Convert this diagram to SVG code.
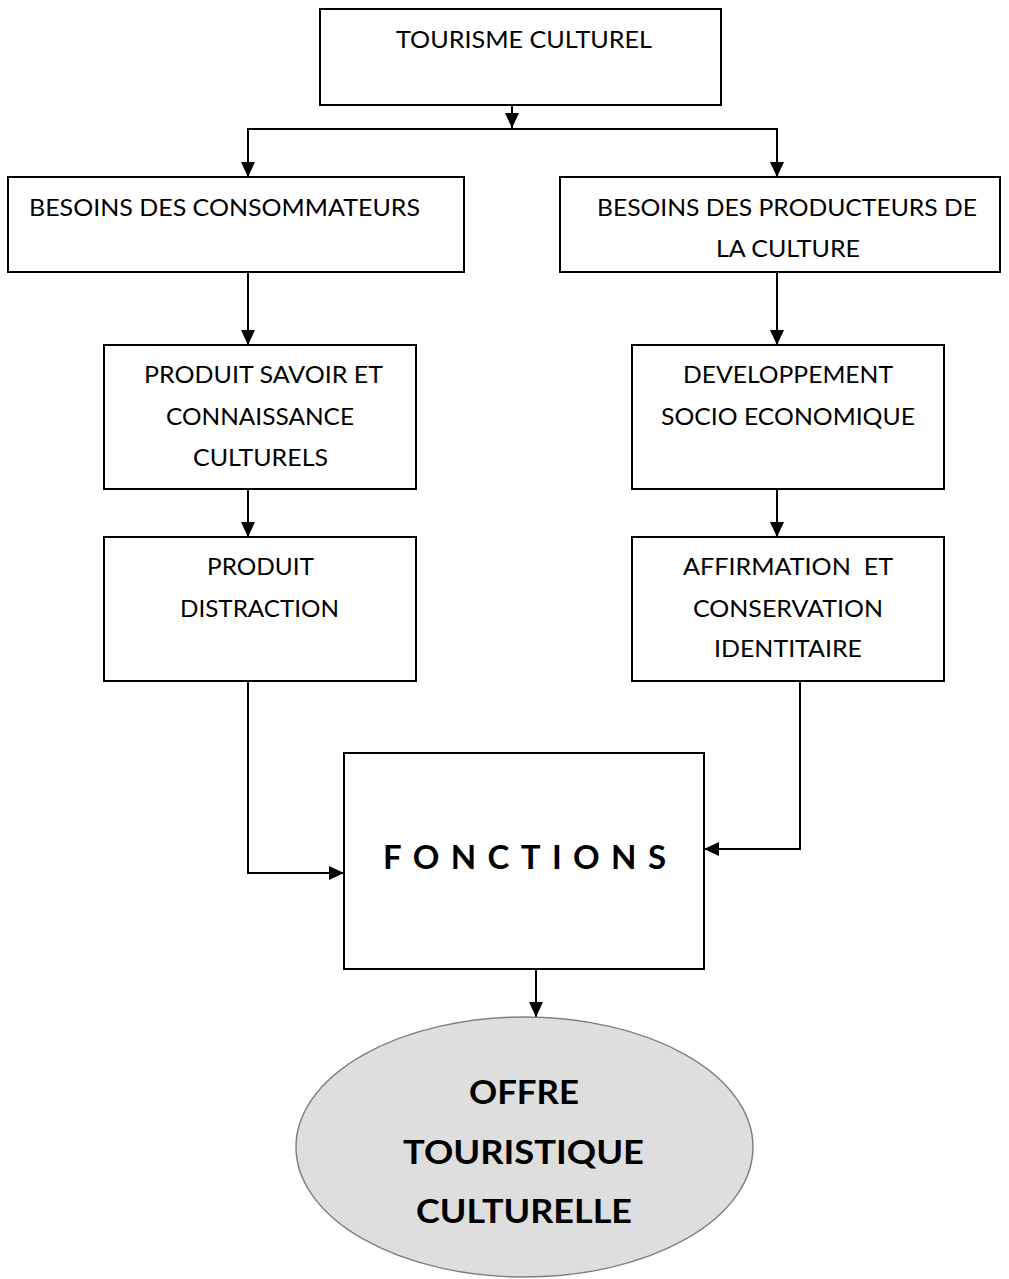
<svg xmlns="http://www.w3.org/2000/svg" width="1009" height="1279" viewBox="0 0 1009 1279">
  <style>
    .box { fill: #ffffff; stroke: #000000; stroke-width: 2; }
    .oval { fill: #dedede; stroke: #808080; stroke-width: 1.5; }
    .wire { fill: none; stroke: #000000; stroke-width: 2; }
    .lbl { font-family: Lato, "Open Sans", sans-serif; font-size: 24px; fill: #000000; }
    .big { font-family: Lato, "Open Sans", sans-serif; font-size: 33px; font-weight: bold; fill: #000000; }
  </style>
  <defs>
    <marker id="head" markerUnits="userSpaceOnUse" markerWidth="16" markerHeight="14" refX="15" refY="7" orient="auto">
      <path d="M0,0 L15,7 L0,14 z" fill="#000000"/>
    </marker>
  </defs>

  <rect width="1009" height="1279" fill="#ffffff"/>

  <!-- connectors -->
  <g id="connectors">
    <line class="wire" x1="512" y1="105" x2="512" y2="128" marker-end="url(#head)"/>
    <line class="wire" x1="247" y1="129" x2="778" y2="129"/>
    <line class="wire" x1="248" y1="129" x2="248" y2="177" marker-end="url(#head)"/>
    <line class="wire" x1="777" y1="129" x2="777" y2="177" marker-end="url(#head)"/>
    <line class="wire" x1="248" y1="272" x2="248" y2="345" marker-end="url(#head)"/>
    <line class="wire" x1="777" y1="272" x2="777" y2="345" marker-end="url(#head)"/>
    <line class="wire" x1="248" y1="489" x2="248" y2="537" marker-end="url(#head)"/>
    <line class="wire" x1="777" y1="489" x2="777" y2="537" marker-end="url(#head)"/>
    <polyline class="wire" points="248,681 248,873 344,873" marker-end="url(#head)"/>
    <polyline class="wire" points="800,681 800,849 704,849" marker-end="url(#head)"/>
    <line class="wire" x1="536" y1="969" x2="536" y2="1017" marker-end="url(#head)"/>
  </g>

  <g id="tourisme-culturel">
    <rect class="box" x="320" y="9" width="401" height="96"/>
    <text class="lbl" x="396" y="48" textLength="256" lengthAdjust="spacingAndGlyphs">TOURISME CULTUREL</text>
  </g>

  <g id="besoins-consommateurs">
    <rect class="box" x="8" y="177" width="456" height="95"/>
    <text class="lbl" x="29" y="216" textLength="391" lengthAdjust="spacingAndGlyphs">BESOINS DES CONSOMMATEURS</text>
  </g>

  <g id="besoins-producteurs">
    <rect class="box" x="560" y="177" width="440" height="95"/>
    <text class="lbl" x="597" y="216" textLength="380" lengthAdjust="spacingAndGlyphs">BESOINS DES PRODUCTEURS DE</text>
    <text class="lbl" x="716" y="257" textLength="144" lengthAdjust="spacingAndGlyphs">LA CULTURE</text>
  </g>

  <g id="produit-savoir">
    <rect class="box" x="104" y="345" width="312" height="144"/>
    <text class="lbl" x="144" y="383" textLength="239" lengthAdjust="spacingAndGlyphs">PRODUIT SAVOIR ET</text>
    <text class="lbl" x="166" y="425" textLength="188" lengthAdjust="spacingAndGlyphs">CONNAISSANCE</text>
    <text class="lbl" x="193" y="466" textLength="135" lengthAdjust="spacingAndGlyphs">CULTURELS</text>
  </g>

  <g id="produit-distraction">
    <rect class="box" x="104" y="537" width="312" height="144"/>
    <text class="lbl" x="207" y="575" textLength="107" lengthAdjust="spacingAndGlyphs">PRODUIT</text>
    <text class="lbl" x="180" y="617" textLength="159" lengthAdjust="spacingAndGlyphs">DISTRACTION</text>
  </g>

  <g id="developpement">
    <rect class="box" x="632" y="345" width="312" height="144"/>
    <text class="lbl" x="683" y="383" textLength="210" lengthAdjust="spacingAndGlyphs">DEVELOPPEMENT</text>
    <text class="lbl" x="661" y="425" textLength="254" lengthAdjust="spacingAndGlyphs">SOCIO ECONOMIQUE</text>
  </g>

  <g id="affirmation">
    <rect class="box" x="632" y="537" width="312" height="144"/>
    <text class="lbl" x="683" y="575" textLength="210" lengthAdjust="spacingAndGlyphs" xml:space="preserve">AFFIRMATION  ET</text>
    <text class="lbl" x="693" y="617" textLength="190" lengthAdjust="spacingAndGlyphs">CONSERVATION</text>
    <text class="lbl" x="714" y="657" textLength="148" lengthAdjust="spacingAndGlyphs">IDENTITAIRE</text>
  </g>

  <g id="fonctions">
    <rect class="box" x="344" y="753" width="360" height="216"/>
    <text class="big" x="383" y="869" font-size="31" textLength="283" lengthAdjust="spacing">FONCTIONS</text>
  </g>

  <g id="offre">
    <ellipse class="oval" cx="524.5" cy="1147" rx="228.5" ry="130"/>
    <text class="big" x="469" y="1104" textLength="110" lengthAdjust="spacingAndGlyphs">OFFRE</text>
    <text class="big" x="403" y="1164" textLength="241" lengthAdjust="spacingAndGlyphs">TOURISTIQUE</text>
    <text class="big" x="416" y="1223" textLength="216" lengthAdjust="spacingAndGlyphs">CULTURELLE</text>
  </g>
</svg>
